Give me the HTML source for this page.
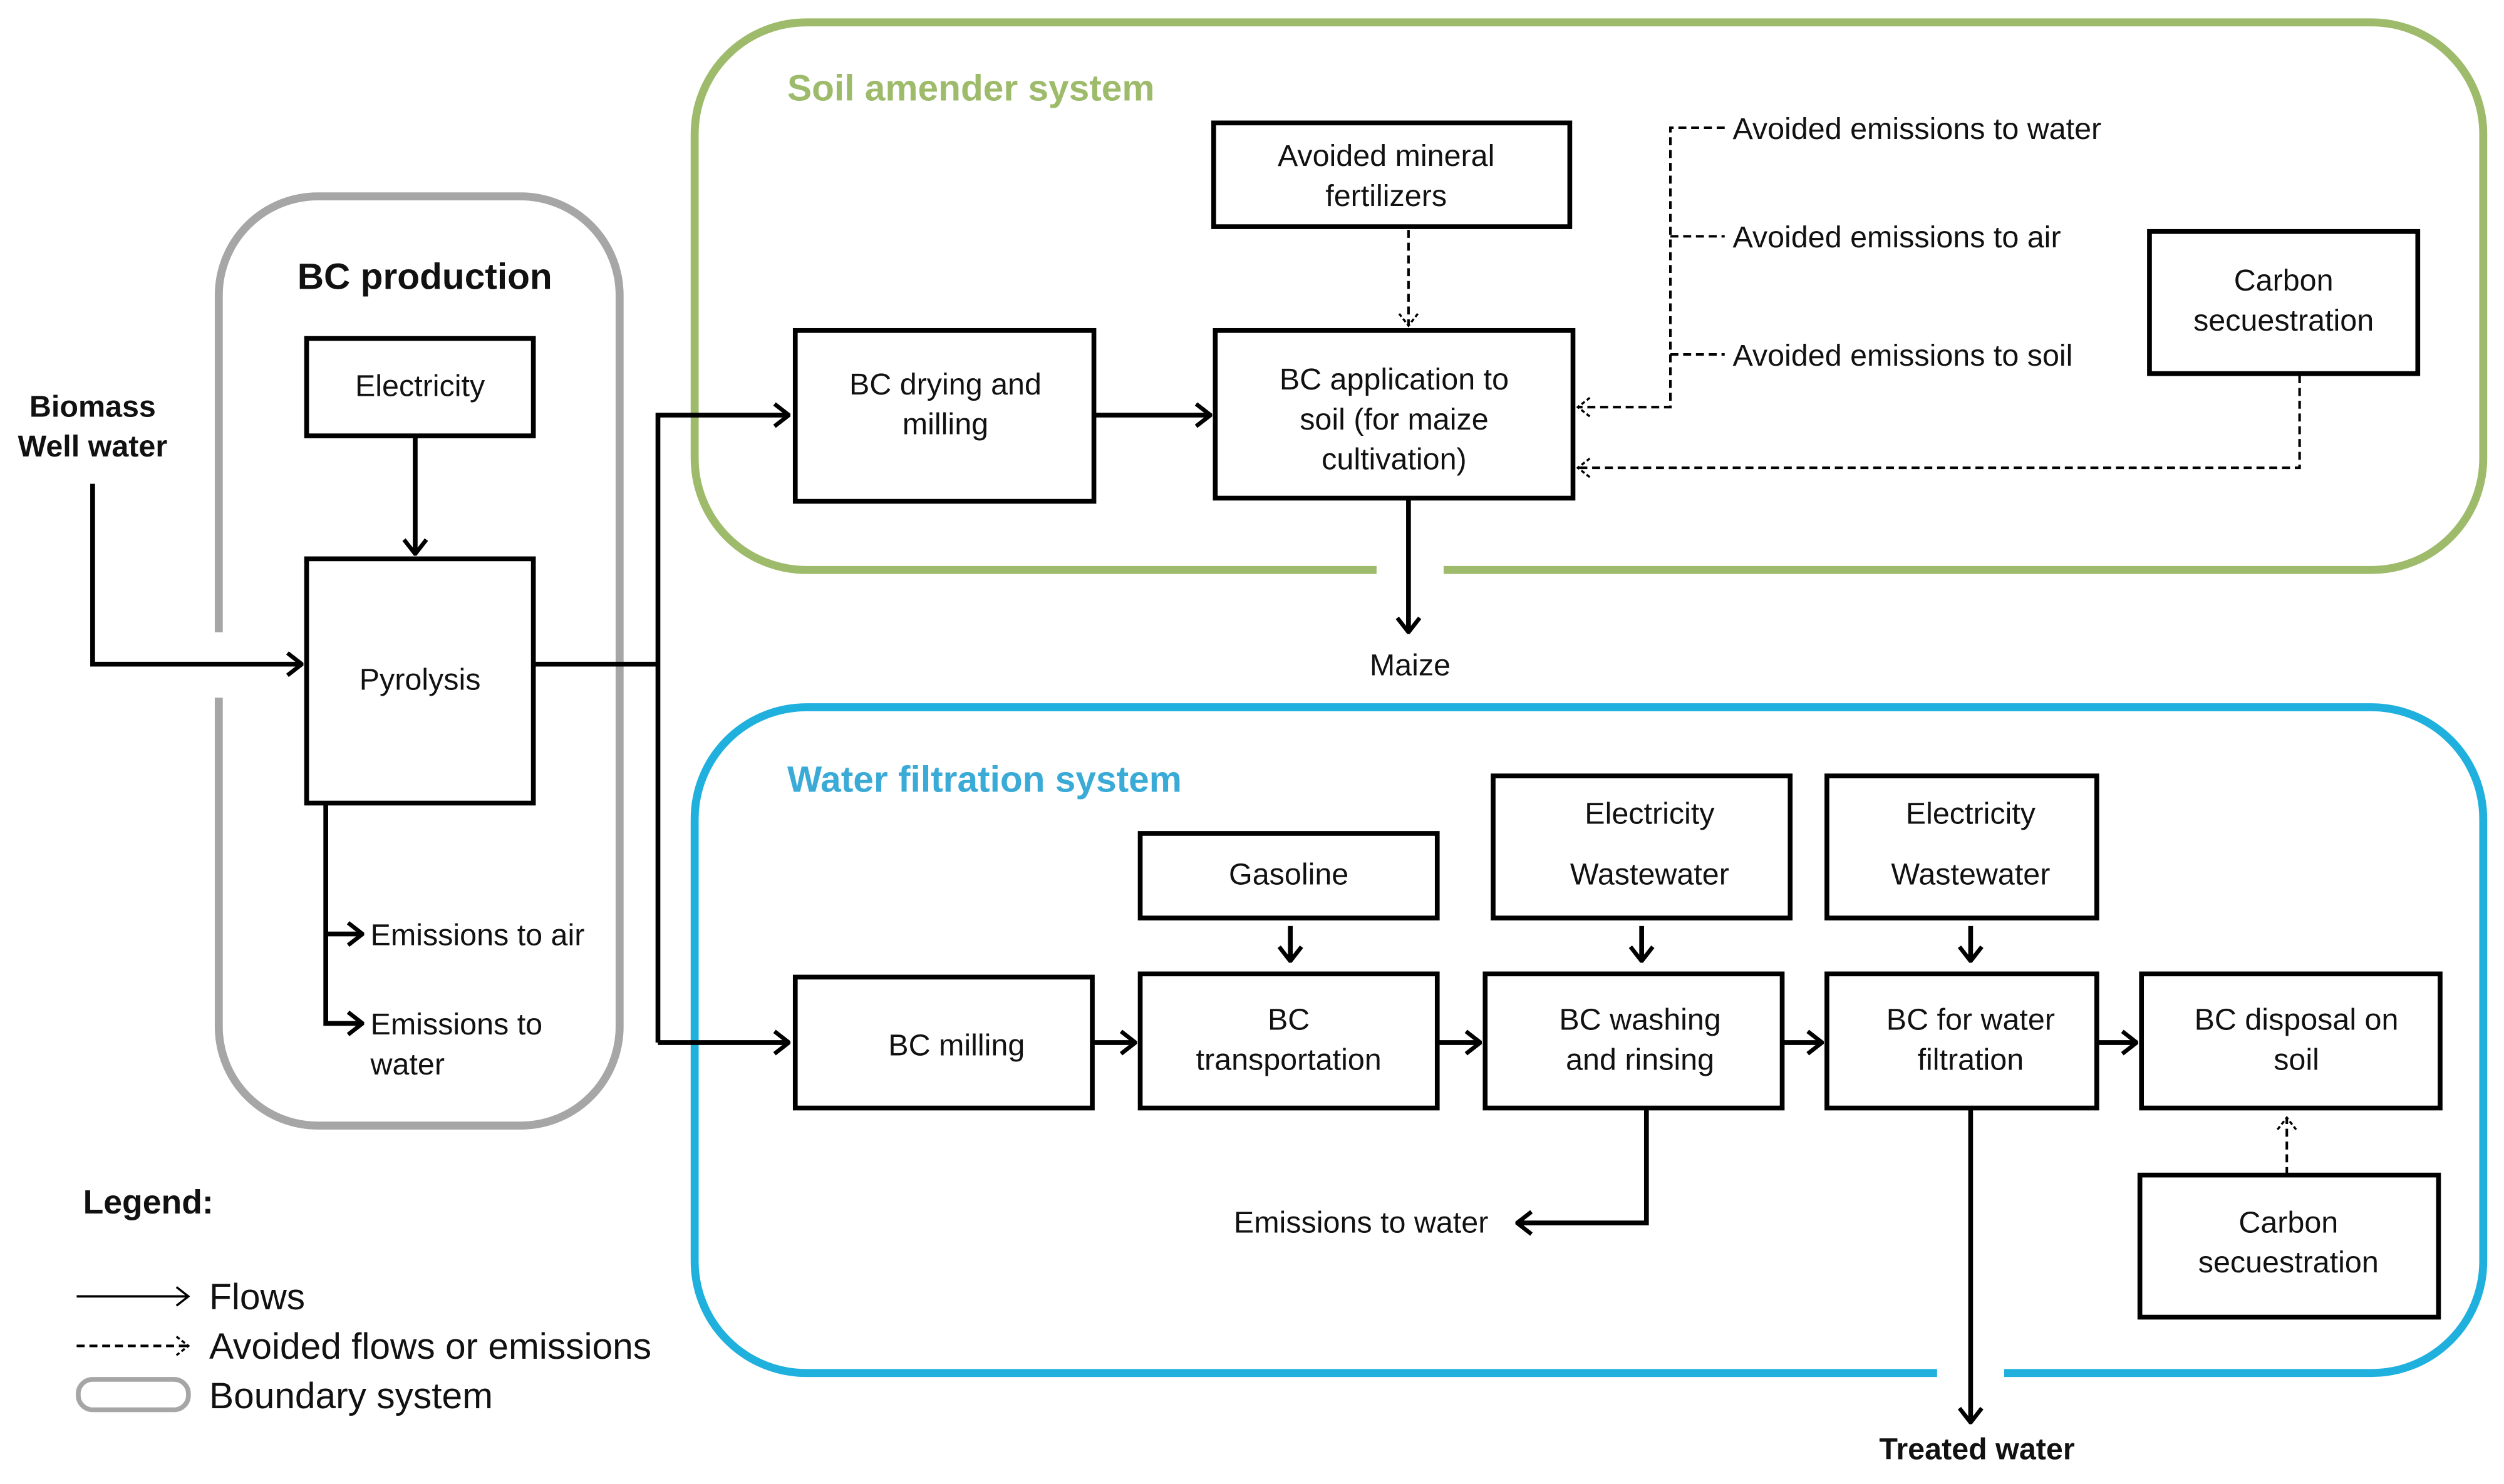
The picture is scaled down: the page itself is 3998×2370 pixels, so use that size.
<!DOCTYPE html>
<html><head><meta charset="utf-8"><style>
html,body{margin:0;padding:0;background:#fff;}
svg{display:block;}
text{font-family:"Liberation Sans",sans-serif;fill:#111;}
</style></head><body>
<svg width="3998" height="2370" viewBox="0 0 1568 929.5" xmlns="http://www.w3.org/2000/svg">
<defs>
<marker id="a" viewBox="0 0 12 16" refX="11" refY="8" markerWidth="12" markerHeight="16" markerUnits="userSpaceOnUse" orient="auto"><path d="M2,1 L11,8 L2,15" fill="none" stroke="#000" stroke-width="2.6"/></marker>
<marker id="d" viewBox="0 0 12 16" refX="11" refY="8" markerWidth="10" markerHeight="14" markerUnits="userSpaceOnUse" orient="auto"><path d="M2,1 L11,8 L2,15" fill="none" stroke="#000" stroke-width="1.6" stroke-dasharray="3,2"/></marker>
<marker id="s" viewBox="0 0 12 16" refX="11" refY="8" markerWidth="10" markerHeight="14" markerUnits="userSpaceOnUse" orient="auto"><path d="M2,1 L11,8 L2,15" fill="none" stroke="#000" stroke-width="1.6"/></marker>
</defs>
<!-- boundaries -->
<rect x="137" y="123" width="251" height="582" rx="62" fill="none" stroke="#a6a6a6" stroke-width="5"/>
<rect x="130" y="396" width="14" height="41" fill="#fff"/>
<rect x="435" y="14" width="1120" height="343" rx="70" fill="none" stroke="#9dbb6a" stroke-width="5"/>
<rect x="862" y="350" width="42" height="14" fill="#fff"/>
<rect x="435" y="443" width="1120" height="417" rx="70" fill="none" stroke="#1fb0de" stroke-width="5"/>
<rect x="1213" y="853" width="42" height="14" fill="#fff"/>
<text x="266" y="181" font-size="23" font-weight="bold" text-anchor="middle">BC production</text>
<text x="493" y="63" font-size="23" font-weight="bold" style="fill:#9dbb6a">Soil amender system</text>
<text x="493" y="496" font-size="23" font-weight="bold" style="fill:#3aaad6">Water filtration system</text>
<g fill="#fff" stroke="#000" stroke-width="3">
<rect x="192" y="212" width="142" height="61"/>
<rect x="192" y="350" width="142" height="153"/>
<rect x="498" y="207" width="187" height="107"/>
<rect x="761" y="207" width="224" height="105"/>
<rect x="760" y="77" width="223" height="65"/>
<rect x="1346" y="145" width="168" height="89"/>
<rect x="498" y="612" width="186" height="82"/>
<rect x="714" y="522" width="186" height="53"/>
<rect x="714" y="610" width="186" height="84"/>
<rect x="935" y="486" width="186" height="89"/>
<rect x="930" y="610" width="186" height="84"/>
<rect x="1144" y="486" width="169" height="89"/>
<rect x="1144" y="610" width="169" height="84"/>
<rect x="1341" y="610" width="187" height="84"/>
<rect x="1340" y="736" width="187" height="89"/>
</g>
<g font-size="19" text-anchor="middle">
<text x="263" y="248">Electricity</text>
<text x="263" y="432">Pyrolysis</text>
<text x="592" y="247">BC drying and</text><text x="592" y="272">milling</text>
<text x="873" y="244">BC application to</text><text x="873" y="269">soil (for maize</text><text x="873" y="294">cultivation)</text>
<text x="868" y="104">Avoided mineral</text><text x="868" y="129">fertilizers</text>
<text x="1430" y="182">Carbon</text><text x="1430" y="207">secuestration</text>
<text x="599" y="661">BC milling</text>
<text x="807" y="554">Gasoline</text>
<text x="807" y="645">BC</text><text x="807" y="670">transportation</text>
<text x="1033" y="516">Electricity</text><text x="1033" y="554">Wastewater</text>
<text x="1027" y="645">BC washing</text><text x="1027" y="670">and rinsing</text>
<text x="1234" y="516">Electricity</text><text x="1234" y="554">Wastewater</text>
<text x="1234" y="645">BC for water</text><text x="1234" y="670">filtration</text>
<text x="1438" y="645">BC disposal on</text><text x="1438" y="670">soil</text>
<text x="1433" y="772">Carbon</text><text x="1433" y="797">secuestration</text>
<text x="883" y="423">Maize</text>
<text x="932" y="772" text-anchor="end">Emissions to water</text>
</g>
<g font-size="19">
<text x="1085" y="87">Avoided emissions to water</text>
<text x="1085" y="155">Avoided emissions to air</text>
<text x="1085" y="229">Avoided emissions to soil</text>
<text x="232" y="592">Emissions to air</text>
<text x="232" y="648">Emissions to</text><text x="232" y="673">water</text>
</g>
<g font-size="19" font-weight="bold" text-anchor="middle">
<text x="58" y="261">Biomass</text><text x="58" y="286">Well water</text>
<text x="1238" y="914">Treated water</text>
</g>
<!-- solid flows -->
<g fill="none" stroke="#000" stroke-width="3">
<path d="M58,303 V416 H189" marker-end="url(#a)"/>
<path d="M260,273 V347" marker-end="url(#a)"/>
<path d="M334,416 H412"/>
<path d="M412,653 V260 H494" marker-end="url(#a)"/>
<path d="M412,653 H494" marker-end="url(#a)"/>
<path d="M685,260 H758" marker-end="url(#a)"/>
<path d="M882,312 V396" marker-end="url(#a)"/>
<path d="M204,503 V641 H227" marker-end="url(#a)"/>
<path d="M204,585 H227" marker-end="url(#a)"/>
<path d="M684,653 H711" marker-end="url(#a)"/>
<path d="M900,653 H927" marker-end="url(#a)"/>
<path d="M1116,653 H1141" marker-end="url(#a)"/>
<path d="M1313,653 H1338" marker-end="url(#a)"/>
<path d="M808,580 V602" marker-end="url(#a)"/>
<path d="M1028,580 V602" marker-end="url(#a)"/>
<path d="M1234,580 V602" marker-end="url(#a)"/>
<path d="M1031,694 V766 H950" marker-end="url(#a)"/>
<path d="M1234,694 V891" marker-end="url(#a)"/>
</g>
<!-- dashed -->
<g fill="none" stroke="#000" stroke-width="1.6" stroke-dasharray="5,3">
<path d="M882,144 V204" marker-end="url(#d)"/>
<path d="M1080,80 H1046 V255 H988" marker-end="url(#d)"/>
<path d="M1046,148 H1080"/>
<path d="M1046,222 H1080"/>
<path d="M1440,235 V293 H988" marker-end="url(#d)"/>
<path d="M1432,736 V700" marker-end="url(#d)"/>
</g>
<!-- legend -->
<text x="52" y="760" font-size="21" font-weight="bold">Legend:</text>
<path d="M48,812 H118" stroke="#000" stroke-width="1.5" fill="none" marker-end="url(#s)"/>
<path d="M48,843 H118" stroke="#000" stroke-width="1.6" stroke-dasharray="5,3" fill="none" marker-end="url(#d)"/>
<rect x="49" y="864" width="69" height="19" rx="9" fill="none" stroke="#a6a6a6" stroke-width="3"/>
<g font-size="23">
<text x="131" y="820">Flows</text>
<text x="131" y="851">Avoided flows or emissions</text>
<text x="131" y="882">Boundary system</text>
</g>
</svg>
</body></html>
